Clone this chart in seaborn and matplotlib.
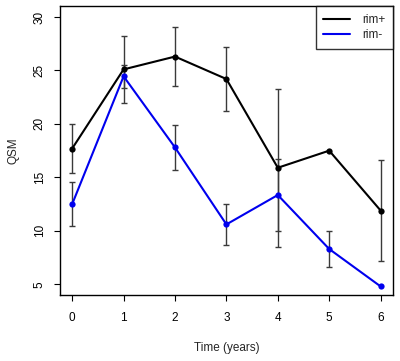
import numpy as np
import pandas as pd
import matplotlib
matplotlib.use("Agg")
import matplotlib.pyplot as plt
from matplotlib.lines import Line2D
import seaborn as sns

# valores
anos = [0, 1, 2, 3, 4, 5, 6]
qsm_rim_pos = [17.7, 25.1, 26.3, 24.2, 15.9, 17.5, 11.9]
erro_rim_pos = [2.3, 3.1, 2.75, 2.95, 7.4, np.nan, 4.75]
qsm_rim_neg = [12.5, 24.45, 17.8, 10.6, 13.35, 8.3, 4.8]
erro_rim_neg = [2.05, 1.1, 2.1, 1.9, 3.35, 1.65, np.nan]
grupos = ["rim+", "rim-"]
cores = {"rim+": "black", "rim-": "#0000ee"}

df = pd.DataFrame({
    "ano": anos * 2,
    "qsm": qsm_rim_pos + qsm_rim_neg,
    "erro": erro_rim_pos + erro_rim_neg,
    "grupo": [grupos[0]] * len(anos) + [grupos[1]] * len(anos),
})

sns.set_style("white")
plt.rcParams["font.family"] = ["Liberation Sans", "DejaVu Sans"]

fig = plt.figure(figsize=(4.0, 3.61), dpi=100)
ax = fig.add_axes([0.149, 0.182, 0.834, 0.8005])

sns.lineplot(data=df, x="ano", y="qsm", hue="grupo", palette=cores,
             marker="o", markersize=4.5, markeredgewidth=0, linewidth=1.5,
             ax=ax, legend=False)

for g in grupos:
    sub = df[(df["grupo"] == g) & df["erro"].notna()]
    ax.errorbar(sub["ano"], sub["qsm"], yerr=sub["erro"], fmt="none",
                ecolor="#3a3a3a", elinewidth=1, capsize=2.2, capthick=1,
                zorder=1)

ax.set_xlim(-0.245, 6.245)
ax.set_ylim(3.97, 31.0)
ax.set_xticks(anos)
ax.set_yticks([5, 10, 15, 20, 25, 30])
ax.tick_params(axis="both", direction="out", length=4, width=0.8,
               labelsize=8.5, colors="black", bottom=True, left=True)
ax.tick_params(axis="x", pad=8)
ax.tick_params(axis="y", pad=6)
for lab in ax.get_yticklabels():
    lab.set_rotation(90)
    lab.set_va("center")
for s in ax.spines.values():
    s.set_color("black")
    s.set_linewidth(1)

ax.set_xlabel("Time (years)", fontsize=8.5, labelpad=13)
ax.set_ylabel("QSM", fontsize=8.5, labelpad=10)

handles = [Line2D([], [], color=cores[g], linewidth=1.5) for g in grupos]
leg = ax.legend(handles, grupos, loc="upper right", fontsize=8.5,
                frameon=True, fancybox=False, borderaxespad=0,
                handlelength=2.3, handletextpad=1.0, borderpad=0.65,
                labelspacing=0.25)
leg.get_frame().set_edgecolor("black")
leg.get_frame().set_linewidth(1)

fig.savefig("out.png", dpi=100)
